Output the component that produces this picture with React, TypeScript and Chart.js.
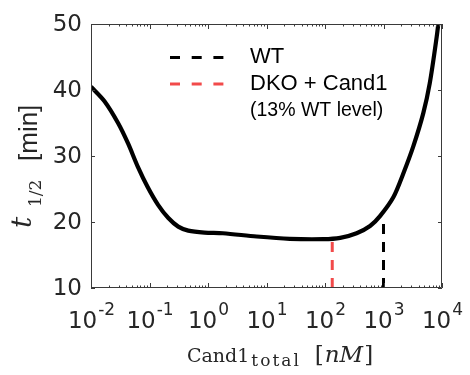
import React, { useEffect, useRef } from "react";
import { Chart, registerables } from "chart.js";

Chart.register(...registerables);

// ---- data ----
const cand1Total = [
  0.01, 0.017, 0.029, 0.043, 0.063, 0.093, 0.14, 0.21, 0.31, 0.46, 0.87, 1.8, 6.8, 25, 93, 182,
  347, 589, 871, 1480, 2190, 3240, 4790, 6170, 8130, 8900,
];
const halfLife = [
  40.5, 38.3, 35.0, 31.9, 28.4, 25.3, 22.6, 20.6, 19.3, 18.7, 18.4, 18.3, 17.8, 17.45, 17.4, 17.6,
  18.3, 19.4, 20.9, 23.8, 27.4, 31.5, 36.5, 41.0, 48.1, 51.0,
];
const wtLineX = [1000, 1000];
const wtLineY = [10, 20.3];
const dkoLineX = [133, 133];
const dkoLineY = [10, 17.0];
const xTickExponents = [-2, -1, 0, 1, 2, 3, 4];
const yTickValues = [10, 20, 30, 40, 50];
const legendLabels = ["WT", "DKO + Cand1"];
const legendNote = "(13% WT level)";
const xMin = 0.01;
const xMax = 10000;
const yMin = 10;
const yMax = 50;

const TEXT = "#262626";
const AXIS = "#3a3a3a";
const RED = "#f24a4a";

const decorPlugin = {
  id: "decor",
  afterDraw(chart: any) {
    const ctx: CanvasRenderingContext2D = chart.ctx;
    const xs = chart.scales.x;
    const ys = chart.scales.y;
    const { left, right, top, bottom } = chart.chartArea;
    ctx.save();

    // box
    ctx.strokeStyle = AXIS;
    ctx.lineWidth = 1;
    ctx.beginPath();
    ctx.rect(left + 0.5, top + 0.5, right - left - 1, bottom - top - 1);
    ctx.stroke();

    // x ticks (major + minor), bottom and top, inward
    ctx.beginPath();
    for (const e of xTickExponents) {
      const px = Math.round(xs.getPixelForValue(Math.pow(10, e))) + 0.5;
      ctx.moveTo(px, bottom);
      ctx.lineTo(px, bottom - 5);
      ctx.moveTo(px, top);
      ctx.lineTo(px, top + 5);
      if (e < xTickExponents[xTickExponents.length - 1]) {
        for (let m = 2; m <= 9; m++) {
          const qx = Math.round(xs.getPixelForValue(m * Math.pow(10, e))) + 0.5;
          ctx.moveTo(qx, bottom);
          ctx.lineTo(qx, bottom - 2.5);
          ctx.moveTo(qx, top);
          ctx.lineTo(qx, top + 2.5);
        }
      }
    }
    // y ticks left and right
    for (const v of yTickValues) {
      const py = Math.round(ys.getPixelForValue(v)) + 0.5;
      ctx.moveTo(left, py);
      ctx.lineTo(left + 4, py);
      ctx.moveTo(right, py);
      ctx.lineTo(right - 4, py);
    }
    ctx.stroke();

    ctx.fillStyle = TEXT;

    // y tick labels
    ctx.font = '23px "DejaVu Sans"';
    ctx.textAlign = "right";
    ctx.textBaseline = "middle";
    for (const v of yTickValues) {
      ctx.fillText(String(v), 82, ys.getPixelForValue(v) + 1);
    }

    // x tick labels 10^e
    ctx.textAlign = "left";
    ctx.textBaseline = "alphabetic";
    for (const e of xTickExponents) {
      const px = xs.getPixelForValue(Math.pow(10, e));
      ctx.font = '23px "DejaVu Sans"';
      const wb = ctx.measureText("10").width;
      ctx.font = '17px "DejaVu Sans"';
      const sup = String(e);
      const ws = ctx.measureText(sup).width;
      const x0 = px - (wb + ws) / 2;
      ctx.font = '23px "DejaVu Sans"';
      ctx.fillText("10", x0, 328);
      ctx.font = '17px "DejaVu Sans"';
      ctx.fillText(sup, x0 + wb + 1, 315);
    }

    // x axis title: Cand1_total [nM]
    let cx = 187;
    ctx.font = '19px "DejaVu Serif"';
    ctx.fillText("Cand1", cx, 362);
    cx += ctx.measureText("Cand1").width + 2;
    ctx.font = '17px "DejaVu Serif"';
    (ctx as any).letterSpacing = "2px";
    ctx.fillText("total", cx, 366);
    cx += ctx.measureText("total").width;
    (ctx as any).letterSpacing = "0px";
    cx += 14;
    ctx.font = '23px "DejaVu Serif"';
    ctx.fillText("[", cx, 362);
    cx += ctx.measureText("[").width + 1;
    ctx.font = 'italic 23px "DejaVu Serif"';
    ctx.fillText("nM", cx, 362);
    cx += ctx.measureText("nM").width + 1;
    ctx.font = '23px "DejaVu Serif"';
    ctx.fillText("]", cx, 362);

    // y axis title (rotated): t_{1/2} [min]
    ctx.save();
    ctx.rotate(-Math.PI / 2);
    ctx.font = 'italic 28px "DejaVu Serif"';
    ctx.fillText("t", -228, 31);
    ctx.font = '17px "DejaVu Serif"';
    ctx.fillText("1/2", -207, 41);
    ctx.font = '26px "Liberation Sans"';
    ctx.fillText("[min]", -161, 37);
    ctx.restore();

    // legend
    ctx.lineWidth = 3;
    ctx.setLineDash([10, 11.7]);
    ctx.strokeStyle = "#000000";
    ctx.beginPath();
    ctx.moveTo(170, 57.5);
    ctx.lineTo(224, 57.5);
    ctx.stroke();
    ctx.strokeStyle = RED;
    ctx.beginPath();
    ctx.moveTo(170, 84);
    ctx.lineTo(224, 84);
    ctx.stroke();
    ctx.setLineDash([]);
    ctx.fillStyle = "#000000";
    ctx.textBaseline = "middle";
    ctx.font = '22px "Liberation Sans"';
    ctx.fillText(legendLabels[0], 250, 56.5);
    ctx.fillText(legendLabels[1], 250, 83.5);
    ctx.font = '19.5px "Liberation Sans"';
    ctx.fillText(legendNote, 250, 111);

    ctx.restore();
  },
};

export default function App() {
  const ref = useRef<HTMLCanvasElement | null>(null);
  useEffect(() => {
    document.body.style.margin = "0";
    const canvas = ref.current;
    if (!canvas) return;
    const curve = cand1Total.map((x, i) => ({ x, y: halfLife[i] }));
    const wt = wtLineX.map((x, i) => ({ x, y: wtLineY[i] }));
    const dko = dkoLineX.map((x, i) => ({ x, y: dkoLineY[i] }));
    const chart = new Chart(canvas, {
      type: "line",
      data: {
        datasets: [
          {
            data: dko,
            borderColor: RED,
            borderWidth: 3,
            borderDash: [10, 8],
            pointRadius: 0,
            clip: 0,
          } as any,
          {
            data: wt,
            borderColor: "#000000",
            borderWidth: 3,
            borderDash: [10, 8],
            pointRadius: 0,
            clip: 0,
          } as any,
          {
            data: curve,
            borderColor: "#000000",
            borderWidth: 4.2,
            pointRadius: 0,
            tension: 0.3,
            borderJoinStyle: "round",
            clip: 0,
          } as any,
        ],
      },
      options: {
        animation: false,
        responsive: false,
        devicePixelRatio: 1,
        events: [],
        layout: { padding: { top: 24, right: 28, left: 0, bottom: 0 } },
        plugins: { legend: { display: false }, tooltip: { enabled: false }, title: { display: false } },
        scales: {
          x: {
            type: "logarithmic",
            min: xMin,
            max: xMax,
            ticks: { display: false },
            grid: { display: false },
            border: { display: false },
            afterFit: (s: any) => {
              s.height = 87;
            },
          },
          y: {
            type: "linear",
            min: yMin,
            max: yMax,
            ticks: { display: false },
            grid: { display: false },
            border: { display: false },
            afterFit: (s: any) => {
              s.width = 91;
            },
          },
        },
      } as any,
      plugins: [decorPlugin],
    });
    return () => chart.destroy();
  }, []);
  return (
    <div style={{ position: "fixed", left: 0, top: 0, width: 470, height: 375, background: "#fff" }}>
      <canvas ref={ref} width={470} height={375} />
    </div>
  );
}
